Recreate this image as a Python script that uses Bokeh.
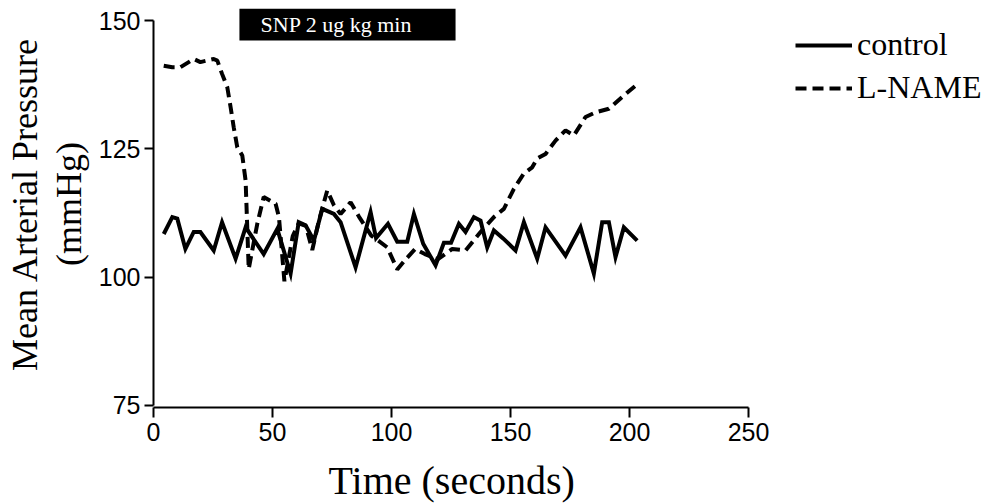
from bokeh.plotting import figure
from bokeh.models import Range1d, Legend, LegendItem, BoxAnnotation, Label, FixedTicker, Title
from bokeh.embed import file_html
from bokeh.resources import INLINE

# ---- data ----
control_t = [4.3, 7.9, 10.0, 13.4, 16.9, 19.7, 25.3, 28.8, 34.5, 38.7, 46.3, 52.0,
             57.6, 61.0, 63.9, 67.4, 70.9, 75.8, 78.6, 84.9, 91.2, 93.5, 98.5, 102.4,
             106.6, 109.4, 113.3, 118.5, 122.0, 125.0, 128.3, 131.1, 134.6, 137.4,
             140.2, 143.0, 147.0, 152.1, 155.6, 161.2, 164.7, 173.1, 179.4, 185.0,
             188.5, 191.3, 194.1, 197.6, 203.2]
control_y = [108.4, 111.7, 111.4, 105.5, 108.8, 108.8, 105.2, 110.7, 103.6, 109.7, 104.5, 109.4,
             100.7, 110.7, 110.1, 107.1, 113.3, 112.3, 110.7, 101.9, 112.7, 107.6, 110.4, 106.9,
             106.9, 112.3, 106.5, 102.3, 106.7, 106.7, 110.4, 108.8, 111.7, 111.0,
             105.8, 109.1, 107.5, 105.2, 110.7, 103.6, 109.7, 104.2, 109.7, 100.7,
             110.7, 110.7, 103.9, 109.7, 107.1]

lname_t = [4.3, 7.9, 11.3, 16.9, 19.7, 25.3, 26.8, 28.8, 31.0, 32.4, 33.7, 35.2, 37.3,
           38.7, 40.0, 43.6, 46.3, 51.3, 52.7, 55.0, 58.5, 61.0, 64.0, 66.7, 69.5, 73.0,
           75.8, 78.6, 82.8, 86.3, 91.5, 98.2, 102.4, 106.0, 110.0, 114.0, 119.5, 125.5,
           131.1, 137.4, 143.0, 147.2, 151.4, 155.6, 159.1, 161.2, 164.7, 168.9, 173.1,
           176.6, 181.5, 185.7, 191.3, 197.6, 202.5]
lname_y = [141.2, 140.9, 140.9, 142.5, 141.9, 142.5, 142.2, 139.6, 137.0, 133.1, 129.2, 125.3, 123.7,
           118.8, 101.6, 110.4, 115.6, 114.3, 111.7, 99.2, 108.0, 110.5, 110.0, 105.3, 111.0, 116.9,
           114.0, 112.3, 114.6, 111.8, 108.1, 105.8, 101.5, 103.5, 105.5, 104.5, 103.5, 105.5,
           105.2, 108.8, 111.7, 113.3, 117.2, 120.2, 121.4, 123.1, 124.0, 126.6, 128.6,
           127.6, 131.2, 132.1, 132.8, 135.4, 137.3]

series_names = ["control", "L-NAME"]
x_ticks = [0, 50, 100, 150, 200, 250]
y_ticks = [75, 100, 125, 150]
x_title = "Time (seconds)"
y_title = "Mean Arterial Pressure\n(mmHg)"
infusion_label = "SNP 2 ug kg min"
infusion_start, infusion_end = 36.1, 126.9

SERIF = "Liberation Serif"
SANS = "Liberation Sans"

p = figure(width=993, height=504, output_backend="svg", toolbar_location=None,
           x_range=Range1d(0, 352.9), y_range=Range1d(74.6, 153.9),
           min_border_left=153, min_border_right=0, min_border_top=0, min_border_bottom=97)
p.outline_line_color = None
p.grid.visible = False
p.background_fill_color = "white"
p.border_fill_color = "white"

r1 = p.line(control_t, control_y, line_color="black", line_width=4, line_join="miter")
r2 = p.line(lname_t, lname_y, line_color="black", line_width=4, line_dash="11 6")

# axes
for ax in (p.xaxis[0], p.yaxis[0]):
    ax.axis_line_width = 2
    ax.major_tick_line_width = 2
    ax.major_tick_in = 0
    ax.major_tick_out = 9
    ax.minor_tick_line_color = None
    ax.major_label_text_font = SANS
    ax.major_label_text_font_size = "25px"
    ax.major_label_text_color = "black"
    ax.axis_label_text_font = SERIF
    ax.axis_label_text_font_style = "normal"
    ax.axis_label_text_color = "black"

p.xaxis[0].ticker = FixedTicker(ticks=x_ticks)
p.xaxis[0].bounds = (0, 250)
p.xaxis[0].major_tick_out = 10
p.xaxis[0].major_label_standoff = 5
# a blank spacer label pushes the title (below) down to where the reference has it
p.xaxis[0].axis_label = " "
p.xaxis[0].axis_label_text_font_size = "1px"
p.xaxis[0].axis_label_standoff = 8

# x title centred under the 0-250 axis span
p.add_layout(Title(text=x_title, align="left", offset=175, standoff=0,
                   text_font=SERIF, text_font_size="40px", text_font_style="normal",
                   text_color="black"), "below")

p.yaxis[0].ticker = FixedTicker(ticks=y_ticks)
p.yaxis[0].bounds = (75, 150)
p.yaxis[0].axis_label = y_title
p.yaxis[0].axis_label_text_font_size = "36px"
p.yaxis[0].axis_label_text_line_height = 1.1
p.yaxis[0].major_label_standoff = 4
p.yaxis[0].axis_label_standoff = 7

# infusion annotation
p.add_layout(BoxAnnotation(left=infusion_start, right=infusion_end, bottom=146.1, top=152.3,
                           fill_color="black", fill_alpha=1, line_color=None))
p.add_layout(Label(x=45, y=149.2, text=infusion_label, text_color="white",
                   text_font=SERIF, text_font_size="22px", text_baseline="middle"))

legend = Legend(items=[LegendItem(label=series_names[0], renderers=[r1]),
                       LegendItem(label=series_names[1], renderers=[r2])],
                location=(642, 301), orientation="vertical")
legend.glyph_width = 57
legend.glyph_height = 36
legend.label_height = 36
legend.spacing = 6
legend.padding = 0
legend.margin = 0
legend.label_standoff = 5
legend.label_text_font = SERIF
legend.label_text_font_size = "32px"
legend.label_text_color = "black"
legend.border_line_color = None
legend.background_fill_alpha = 0
p.add_layout(legend)

open("out.html", "w").write(file_html(p, INLINE))
